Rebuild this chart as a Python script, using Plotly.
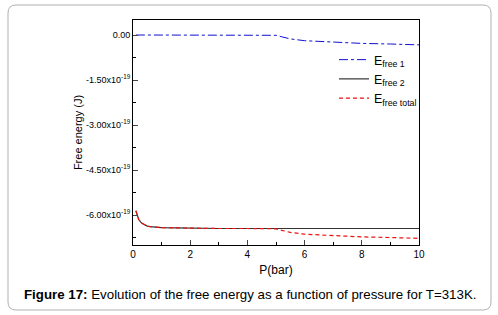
import plotly.graph_objects as go

# Pressure (bar)
P = [0.1, 0.15, 0.2, 0.3, 0.4, 0.5, 0.6, 0.8, 1.0, 1.5, 2, 3, 4, 4.9, 5.0, 5.2, 5.5, 6, 7, 8, 9, 10]
# Free energies in units of 1e-19 J
E_free1 = [0, 0, 0, 0, 0, 0, 0, 0, 0, 0, 0, 0, 0, 0, -0.01, -0.06, -0.13, -0.19, -0.24, -0.28, -0.30, -0.33]
E_free2 = [-5.86, -6.05, -6.15, -6.27, -6.33, -6.37, -6.39, -6.41, -6.42, -6.43, -6.44, -6.45, -6.45, -6.45,
           -6.45, -6.45, -6.45, -6.45, -6.45, -6.45, -6.45, -6.45]
E_total = [-5.86, -6.05, -6.15, -6.27, -6.33, -6.37, -6.39, -6.41, -6.42, -6.43, -6.44, -6.45, -6.45, -6.45,
           -6.46, -6.51, -6.58, -6.64, -6.69, -6.73, -6.75, -6.78]

y_tickvals = [0, -1.5, -3.0, -4.5, -6.0]
y_ticktext = ["0.00", "-1.50x10<sup>-19</sup>", "-3.00x10<sup>-19</sup>",
              "-4.50x10<sup>-19</sup>", "-6.00x10<sup>-19</sup>"]
x_tickvals = [0, 2, 4, 6, 8, 10]

FONT = "Liberation Sans, Arial, sans-serif"

fig = go.Figure()
fig.add_trace(go.Scatter(x=P, y=E_free1, mode="lines", name="E<sub>free 1</sub>",
                         line=dict(color="#1010d0", width=1, dash="dashdot")))
fig.add_trace(go.Scatter(x=P, y=E_free2, mode="lines", name="E<sub>free 2</sub>",
                         line=dict(color="#333333", width=1.2)))
fig.add_trace(go.Scatter(x=P, y=E_total, mode="lines", name="E<sub>free total</sub>",
                         line=dict(color="#ee1111", width=1.2, dash="4px,3px")))

W, H = 498, 315
L, R, T, B = 133, 79, 20, 70
pw, ph = W - L - R, H - T - B

def px(xp):
    return (xp - L) / pw

def py(yp):
    return (H - B - yp) / ph

fig.update_layout(
    width=W, height=H,
    margin=dict(l=L, r=R, t=T, b=B, autoexpand=False),
    paper_bgcolor="white", plot_bgcolor="white",
    font=dict(family=FONT, color="black", size=9),
    showlegend=True,
    legend=dict(x=px(334), y=py(45), xanchor="left", yanchor="top",
                bgcolor="rgba(0,0,0,0)", font=dict(size=12.5, family=FONT),
                itemwidth=30, tracegroupgap=0),
    xaxis=dict(range=[0, 10], tickvals=x_tickvals, ticks="inside", ticklen=5,
               showline=True, linecolor="black", linewidth=1, mirror=True,
               showgrid=False, zeroline=False, tickfont=dict(size=10),
               minor=dict(dtick=1, ticks="inside", ticklen=3, tickcolor="black"),
               title=dict(text="P(bar)", font=dict(size=12), standoff=6)),
    yaxis=dict(range=[-7.0, 0.5], tickvals=y_tickvals, ticktext=y_ticktext,
               ticks="inside", ticklen=5,
               showline=True, linecolor="black", linewidth=1, mirror=True,
               showgrid=False, zeroline=False, tickfont=dict(size=9),
               minor=dict(tickvals=[-0.75, -2.25, -3.75, -5.25, -6.75], ticks="inside",
                          ticklen=3, tickcolor="black"),
               title=dict(text="Free energy (J)", font=dict(size=11), standoff=1)),
)

# rounded border around the figure
x0, x1, y0, y1 = px(8), px(491), py(310), py(5)
rx, ry = 8 / pw, 8 / ph
path = (f"M {x0+rx},{y1} L {x1-rx},{y1} Q {x1},{y1} {x1},{y1-ry} "
        f"L {x1},{y0+ry} Q {x1},{y0} {x1-rx},{y0} L {x0+rx},{y0} "
        f"Q {x0},{y0} {x0},{y0+ry} L {x0},{y1-ry} Q {x0},{y1} {x0+rx},{y1} Z")
fig.add_shape(type="path", path=path, xref="paper", yref="paper",
              line=dict(color="#b0b0b0", width=1), layer="below")

fig.add_annotation(text="<b>Figure 17:</b> Evolution of the free energy as a function of pressure for T=313K.",
                   xref="paper", yref="paper", x=px(250), y=py(294), xanchor="center", yanchor="middle",
                   showarrow=False, font=dict(size=13.3, family=FONT, color="black"))

fig.write_html("out.html", config={"displayModeBar": False},
               post_script="document.body.style.margin='0';document.body.style.overflow='hidden';")
